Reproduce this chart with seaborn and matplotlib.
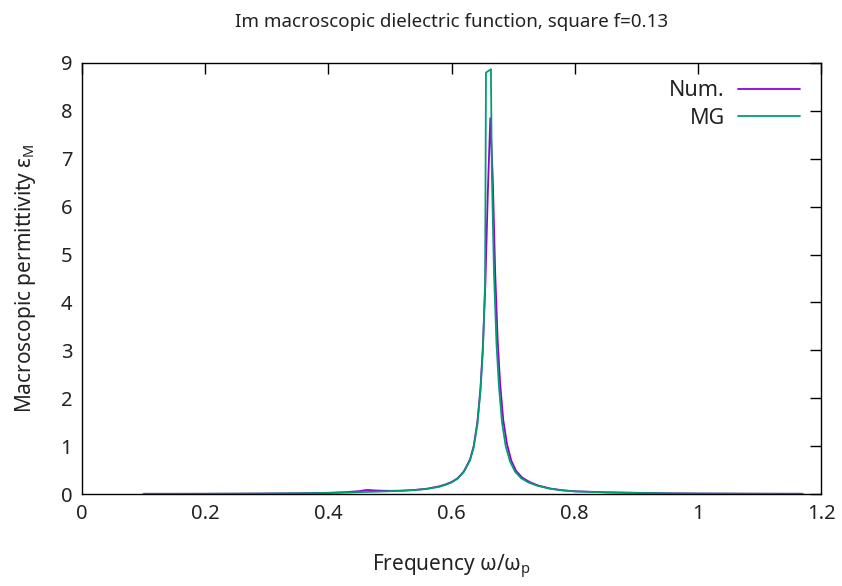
import matplotlib
matplotlib.use("Agg")
import matplotlib.pyplot as plt
import seaborn as sns
import pandas as pd

# ---- data ----
num_x = [0.10, 0.15, 0.20, 0.25, 0.30, 0.35, 0.40, 0.43, 0.45, 0.46, 0.465, 0.47,
         0.48, 0.50, 0.52, 0.54, 0.56, 0.58, 0.59, 0.60, 0.61, 0.62, 0.63, 0.636,
         0.642, 0.647, 0.651, 0.655, 0.659, 0.663, 0.667, 0.671, 0.675, 0.679,
         0.684, 0.690, 0.697, 0.705, 0.715, 0.727, 0.74, 0.76, 0.78, 0.80, 0.85,
         0.90, 0.95, 1.00, 1.10, 1.17]
num_y = [0.004, 0.004, 0.005, 0.007, 0.01, 0.015, 0.025, 0.04, 0.06, 0.08, 0.085, 0.078,
         0.072, 0.066, 0.07, 0.085, 0.11, 0.16, 0.2, 0.25, 0.33, 0.47, 0.72, 1.0,
         1.5, 2.2, 3.1, 4.4, 6.3, 7.85, 6.6, 4.6, 3.2, 2.3,
         1.55, 1.05, 0.7, 0.48, 0.34, 0.25, 0.18, 0.115, 0.078, 0.057, 0.036,
         0.025, 0.015, 0.01, 0.006, 0.005]

mg_x = [0.10, 0.15, 0.20, 0.25, 0.30, 0.35, 0.40, 0.43, 0.45, 0.47, 0.50, 0.52,
        0.54, 0.56, 0.58, 0.59, 0.60, 0.61, 0.62, 0.63, 0.636, 0.642, 0.647,
        0.651, 0.6545, 0.656, 0.664, 0.6655, 0.669, 0.673, 0.677, 0.682, 0.688,
        0.695, 0.703, 0.713, 0.725, 0.74, 0.76, 0.78, 0.80, 0.85, 0.90, 0.95,
        1.00, 1.10, 1.17]
mg_y = [0.004, 0.004, 0.005, 0.007, 0.01, 0.014, 0.022, 0.03, 0.038, 0.045, 0.058, 0.068,
        0.082, 0.105, 0.15, 0.19, 0.24, 0.32, 0.46, 0.7, 0.97, 1.45, 2.15,
        3.0, 4.4, 8.8, 8.87, 6.7, 4.6, 3.15, 2.25, 1.5, 1.0,
        0.68, 0.47, 0.33, 0.24, 0.17, 0.11, 0.075, 0.054, 0.034, 0.022, 0.013,
        0.009, 0.005, 0.004]

series_names = ["Num.", "MG"]
x_ticks = [0, 0.2, 0.4, 0.6, 0.8, 1, 1.2]
x_tick_labels = ["0", "0.2", "0.4", "0.6", "0.8", "1", "1.2"]
y_ticks = list(range(0, 10))

colors = {"Num.": "#9400d3", "MG": "#009e73"}

df = pd.concat([
    pd.DataFrame({"x": num_x, "y": num_y, "series": series_names[0]}),
    pd.DataFrame({"x": mg_x, "y": mg_y, "series": series_names[1]}),
], ignore_index=True)

sns.set_theme(style="white")
plt.rcParams["font.family"] = ["Noto Sans", "DejaVu Sans"]
plt.rcParams["mathtext.fontset"] = "custom"
plt.rcParams["mathtext.rm"] = "Noto Sans"
plt.rcParams["mathtext.it"] = "Noto Sans:italic"

TXT = "#222222"
fig = plt.figure(figsize=(8.42, 5.86), dpi=100)
ax = fig.add_axes([82/842, 1 - 494/586, (821 - 82)/842, (494 - 63)/586])

sns.lineplot(data=df, x="x", y="y", hue="series", palette=colors, sort=False,
             estimator=None, linewidth=1.3, ax=ax, legend=True)

ax.set_xlim(0, 1.2)
ax.set_ylim(0, 9)
ax.set_xticks(x_ticks)
ax.set_xticklabels(x_tick_labels)
ax.set_yticks(y_ticks)

for s in ax.spines.values():
    s.set_visible(True)
    s.set_color("black")
    s.set_linewidth(1.0)

ax.tick_params(direction="in", length=8, width=1, colors="black",
               top=True, right=True, labelsize=14.5, pad=7,
               labelcolor=TXT)

ax.set_title("Im macroscopic dielectric function, square f=0.13",
             fontsize=13.5, pad=26, color=TXT)
ax.set_xlabel(r"Frequency ω/ω$_\mathrm{p}$", fontsize=15, labelpad=21, color=TXT)
ax.set_ylabel(r"Macroscopic permittivity ε$_\mathrm{M}$", fontsize=15, labelpad=16, color=TXT)

handles, labels = ax.get_legend_handles_labels()
leg = ax.legend(handles, labels, loc="upper right", frameon=False, markerfirst=False,
                fontsize=15.5, handlelength=2.9, labelspacing=0.3,
                bbox_to_anchor=(0.998, 1.005), handletextpad=0.6)
for t in leg.get_texts():
    t.set_color(TXT)

fig.savefig("out.png", dpi=100)
